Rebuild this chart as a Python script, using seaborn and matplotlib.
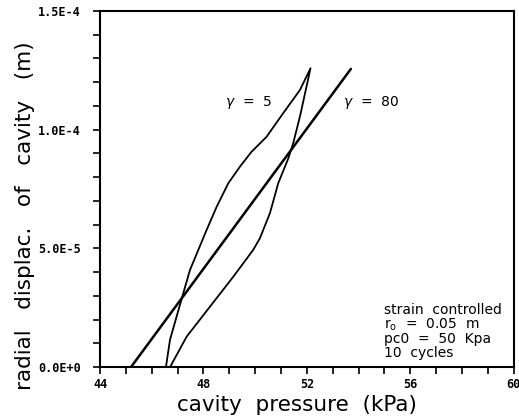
import matplotlib
matplotlib.use("Agg")
import matplotlib.pyplot as plt
import seaborn as sns
import pandas as pd
from matplotlib.ticker import MultipleLocator

# gamma = 5 hysteresis loop (loading branch then unloading branch)
g5_pressure = [46.55, 46.705, 46.96, 47.22, 47.48, 47.80, 48.12, 48.51, 48.96, 49.41, 49.86, 50.44,
               51.08, 51.73, 52.14,
               51.73, 51.47, 51.28, 50.89, 50.57, 50.18, 49.92, 49.15, 48.25, 47.35, 46.71]
g5_displ = [0.0, 1.14e-5, 2.12e-5, 3.11e-5, 4.09e-5, 4.93e-5, 5.77e-5, 6.75e-5, 7.74e-5, 8.44e-5, 9.07e-5, 9.70e-5,
            10.69e-5, 11.67e-5, 12.59e-5,
            10.55e-5, 9.43e-5, 8.79e-5, 7.74e-5, 6.48e-5, 5.42e-5, 4.93e-5, 3.80e-5, 2.54e-5, 1.28e-5, 0.0]
# gamma = 80 (nearly linear)
g80_pressure = [45.20, 53.70]
g80_displ = [0.0, 12.56e-5]

x_ticks = [44, 48, 52, 56, 60]
y_ticks = [0.0, 5.0e-5, 1.0e-4, 1.5e-4]
y_ticklabels = ["0.0E+0", "5.0E-5", "1.0E-4", "1.5E-4"]

sns.set_style("ticks")
plt.rcParams['font.family'] = ['DejaVu Sans']
plt.rcParams.update({"text.color": "black", "axes.labelcolor": "black",
                     "xtick.color": "black", "ytick.color": "black",
                     "lines.solid_joinstyle": "round"})

fig = plt.figure(figsize=(5.19, 4.18), dpi=100)
ax = fig.add_axes([0.1927, 0.122, 0.7973, 0.8517])

df5 = pd.DataFrame({"p": g5_pressure, "d": g5_displ})
df80 = pd.DataFrame({"p": g80_pressure, "d": g80_displ})
sns.lineplot(data=df5, x="p", y="d", sort=False, estimator=None, color="black", lw=1.3, ax=ax)
sns.lineplot(data=df80, x="p", y="d", sort=False, estimator=None, color="black", lw=1.8, ax=ax)

ax.set_xlim(44, 60)
ax.set_ylim(0, 1.5e-4)
tick_font = dict(family="DejaVu Sans Mono", fontweight="bold", fontsize=8.5)
ax.set_xticks(x_ticks)
ax.set_xticklabels([str(t) for t in x_ticks], **tick_font)
ax.set_yticks(y_ticks)
ax.set_yticklabels(y_ticklabels, **tick_font)
ax.xaxis.set_minor_locator(MultipleLocator(1))
ax.yaxis.set_minor_locator(MultipleLocator(1e-5))
ax.tick_params(which="both", direction="out", length=5, width=1.2, colors="black")
ax.tick_params(axis="x", which="major", pad=3)
ax.tick_params(axis="y", which="major", pad=9)
for s in ax.spines.values():
    s.set_visible(True)
    s.set_linewidth(1.5)
    s.set_color("black")

ax.set_xlabel("cavity  pressure  (kPa)", fontsize=15.5)
ax.set_ylabel("radial   displac.   of   cavity   (m)", fontsize=15.5)
ax.xaxis.set_label_coords(0.476, -0.078)
ax.yaxis.set_label_coords(-0.157, 0.424)

ax.text(48.83, 11.13e-5, r"$\gamma$  =  5", fontsize=10, va="center", ha="left")
ax.text(53.39, 11.13e-5, r"$\gamma$  =  80", fontsize=10, va="center", ha="left")

ax.text(55.0, 0.3e-5, "strain  controlled\n" + r"r$_{\rm o}$  =  0.05  m" + "\npc0  =  50  Kpa\n10  cycles",
        fontsize=10, va="bottom", ha="left", linespacing=0.95)

fig.savefig("out.png", dpi=100)
